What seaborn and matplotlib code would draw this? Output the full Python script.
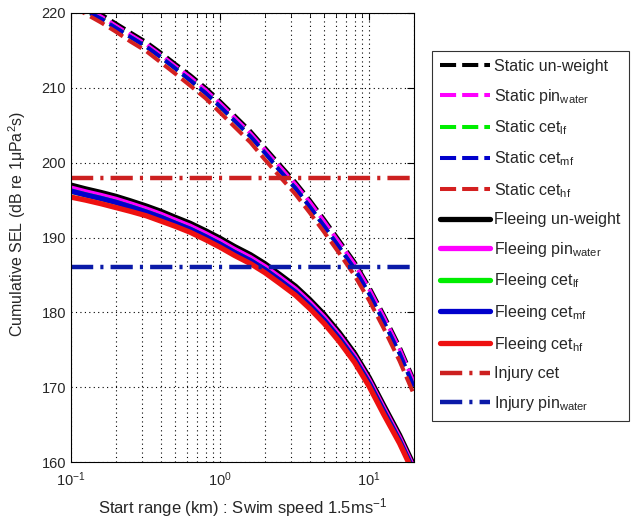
import numpy as np
import pandas as pd
import matplotlib
matplotlib.use('Agg')
import matplotlib.pyplot as plt
import seaborn as sns
from matplotlib.ticker import LogLocator, FixedLocator

##### データ (値は図から読み取り)
start_range = [0.1, 0.125, 0.16, 0.2, 0.25, 0.32, 0.4, 0.5, 0.63, 0.8, 1, 1.25,
               1.6, 2, 2.5, 3.2, 4, 5, 6.3, 8, 10, 12.5, 16, 20]

static_unweight = [222.0, 220.9, 219.8, 218.6, 217.4, 216.1, 214.7, 213.2, 211.7, 210.0, 208.2, 206.3,
                   204.2, 202.0, 199.8, 197.4, 195.0, 192.4, 189.6, 186.7, 183.4, 179.7, 175.4, 170.9]
static_pin      = [221.7, 220.6, 219.5, 218.3, 217.1, 215.8, 214.4, 212.9, 211.4, 209.7, 207.9, 206.0,
                   203.9, 201.7, 199.5, 197.1, 194.7, 192.1, 189.3, 186.4, 183.1, 179.4, 175.1, 170.6]
static_cet_lf   = [221.4, 220.3, 219.2, 218.0, 216.8, 215.5, 214.1, 212.6, 211.0, 209.3, 207.5, 205.6,
                   203.5, 201.3, 199.0, 196.6, 194.1, 191.5, 188.7, 185.8, 182.5, 178.8, 174.5, 170.0]
static_cet_mf   = [221.4, 220.3, 219.2, 218.0, 216.8, 215.5, 214.1, 212.6, 211.0, 209.3, 207.5, 205.6,
                   203.5, 201.3, 199.0, 196.6, 194.1, 191.5, 188.7, 185.8, 182.5, 178.8, 174.5, 170.0]
static_cet_hf   = [221.0, 219.9, 218.7, 217.5, 216.2, 214.9, 213.4, 211.9, 210.3, 208.6, 206.7, 204.8,
                   202.7, 200.4, 198.2, 195.8, 193.3, 190.7, 187.9, 184.9, 181.6, 177.9, 173.5, 169.0]

fleeing_unweight = [197.0, 196.5, 196.0, 195.5, 194.9, 194.2, 193.5, 192.7, 191.9, 190.9, 189.9, 188.8,
                    187.7, 186.5, 185.1, 183.5, 181.7, 179.7, 177.3, 174.5, 171.3, 167.6, 163.6, 159.5]
fleeing_pin      = [196.6, 196.1, 195.6, 195.1, 194.5, 193.8, 193.1, 192.3, 191.5, 190.5, 189.5, 188.4,
                    187.3, 186.1, 184.7, 183.1, 181.3, 179.3, 176.9, 174.1, 170.9, 167.2, 163.2, 159.1]
fleeing_cet_lf   = [196.2, 195.7, 195.2, 194.7, 194.1, 193.4, 192.7, 191.9, 191.1, 190.1, 189.1, 188.0,
                    186.9, 185.7, 184.3, 182.7, 180.9, 178.9, 176.5, 173.7, 170.5, 166.8, 162.8, 158.7]
fleeing_cet_mf   = [196.2, 195.7, 195.2, 194.7, 194.1, 193.4, 192.7, 191.9, 191.1, 190.1, 189.1, 188.0,
                    186.9, 185.7, 184.3, 182.7, 180.9, 178.9, 176.5, 173.7, 170.5, 166.8, 162.8, 158.7]
fleeing_cet_hf   = [195.4, 195.0, 194.5, 194.0, 193.5, 192.9, 192.2, 191.5, 190.7, 189.7, 188.7, 187.6,
                    186.5, 185.3, 183.9, 182.3, 180.5, 178.5, 176.1, 173.3, 170.1, 166.4, 162.5, 158.4]

injury_cet = 198
injury_pin = 186

labels = [
    'Static un-weight', 'Static pin$_{\\mathregular{water}}$', 'Static cet$_{\\mathregular{lf}}$',
    'Static cet$_{\\mathregular{mf}}$', 'Static cet$_{\\mathregular{hf}}$',
    'Fleeing un-weight', 'Fleeing pin$_{\\mathregular{water}}$', 'Fleeing cet$_{\\mathregular{lf}}$',
    'Fleeing cet$_{\\mathregular{mf}}$', 'Fleeing cet$_{\\mathregular{hf}}$',
    'Injury cet', 'Injury pin$_{\\mathregular{water}}$',
]

##### スタイル
sns.set_style('white')
plt.rcParams['font.family'] = ['Liberation Sans', 'DejaVu Sans']
plt.rcParams['mathtext.fontset'] = 'custom'
plt.rcParams['mathtext.rm'] = 'Liberation Sans'
plt.rcParams['mathtext.it'] = 'Liberation Sans:italic'
plt.rcParams['mathtext.bf'] = 'Liberation Sans:bold'

fig = plt.figure(figsize=(6.34, 5.22), dpi=100)
ax = fig.add_axes([71/634, 60/522, (414-71)/634, (462-13)/522])

series = [
    (static_unweight, 'black',   (4, 1.5)),
    (static_pin,      '#ff00ff', (4, 1.5)),
    (static_cet_lf,   '#00ee00', (4, 1.5)),
    (static_cet_mf,   '#0000cc', (4, 1.5)),
    (static_cet_hf,   '#d42020', (4, 1.5)),
    (fleeing_unweight, 'black',   None),
    (fleeing_pin,      '#ff00ff', None),
    (fleeing_cet_lf,   '#00ee00', None),
    (fleeing_cet_mf,   '#0000cc', None),
    (fleeing_cet_hf,   '#ee1010', None),
]

lw_static = 2.9
lw_flee = 3.8
for i, (vals, col, dash) in enumerate(series):
    df = pd.DataFrame({'range': start_range, 'sel': vals})
    if dash is None:
        sns.lineplot(data=df, x='range', y='sel', ax=ax, color=col, lw=lw_flee, label=labels[i])
    else:
        sns.lineplot(data=df, x='range', y='sel', ax=ax, color=col, lw=lw_static, label=labels[i])
        ax.lines[-1].set_dashes(dash)

ax.axhline(injury_cet, color='#cc2020', lw=3.2, dashes=(5, 1.6, 0.7, 1.6), label=labels[10])
ax.axhline(injury_pin, color='#0a1aa8', lw=3.2, dashes=(5, 1.6, 0.7, 1.6), label=labels[11])

##### 軸
ax.set_xscale('log')
ax.set_xlim(0.1, 20)
ax.set_ylim(160, 220)
ax.yaxis.set_major_locator(FixedLocator([160, 170, 180, 190, 200, 210, 220]))
ax.xaxis.set_major_locator(LogLocator(base=10, numticks=10))
ax.xaxis.set_minor_locator(LogLocator(base=10, subs=np.arange(2, 10), numticks=10))
ax.grid(True, which='major', color='black', linestyle=(0, (1, 3)), lw=0.8)
ax.grid(True, which='minor', axis='x', color='black', linestyle=(0, (1, 3)), lw=0.8)
ax.tick_params(direction='in', which='both', top=True, right=True, labelsize=10.5, length=5, color='black')
ax.tick_params(axis='x', which='major', pad=6)
ax.tick_params(which='minor', length=3)
for s in ax.spines.values():
    s.set_color('black')
    s.set_linewidth(0.8)

ax.set_xlabel('Start range (km) : Swim speed 1.5ms$^{-1}$', fontsize=12, labelpad=5)
ax.set_ylabel('Cumulative SEL (dB re 1μPa$^2$s)', fontsize=11.5)
ax.yaxis.set_label_coords(-0.125, 0.53)

##### 凡例
handles, labs = ax.get_legend_handles_labels()
if ax.legend_:
    ax.legend_.remove()
leg = fig.legend(handles, labs, loc='upper left', bbox_to_anchor=(432/634, 1 - 51/522),
                 frameon=True, fancybox=False, edgecolor='black', fontsize=11.5,
                 handlelength=3.1, handletextpad=0.3, labelspacing=0.79, borderpad=0.5,
                 borderaxespad=0)
leg.get_frame().set_linewidth(0.8)

fig.savefig('out.png', dpi=100)
